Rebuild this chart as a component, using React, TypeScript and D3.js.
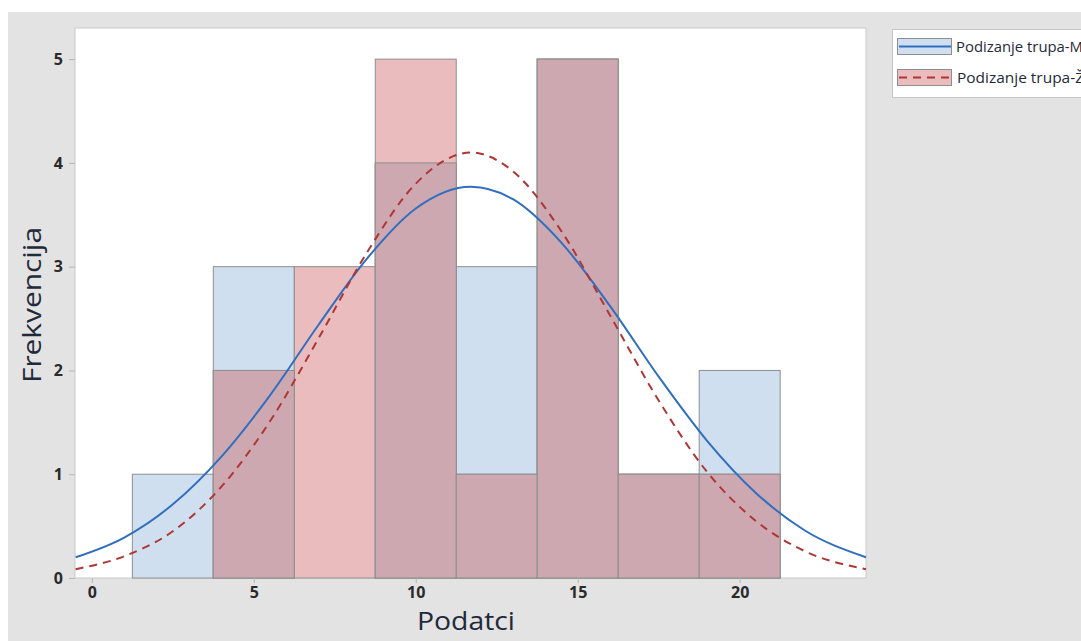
import * as d3 from "d3";
import { useEffect, useRef } from "react";

const binCenters = [2.5, 5, 7.5, 10, 12.5, 15, 17.5, 20];
const countsM = [1, 3, 0, 4, 3, 5, 1, 2];
const countsZ = [0, 2, 3, 5, 1, 5, 1, 1];
const binWidth = 2.5;

const curveX = [-0.5, 1, 2.5, 4, 5.5, 7, 8.5, 10, 11.7, 13, 14.5, 16, 17.5, 19, 20.5, 22, 23.9];
const curveM = [0.2, 0.39, 0.71, 1.17, 1.76, 2.44, 3.08, 3.56, 3.77, 3.65, 3.23, 2.62, 1.94, 1.32, 0.82, 0.46, 0.2];
const curveZ = [0.085, 0.21, 0.45, 0.88, 1.51, 2.31, 3.14, 3.8, 4.1, 3.92, 3.34, 2.53, 1.71, 1.02, 0.55, 0.26, 0.085];

const xTicks = [0, 5, 10, 15, 20];
const yTicks = [0, 1, 2, 3, 4, 5];
const legendLabels = ["Podizanje trupa-M", "Podizanje trupa-Ž"];

const App = () => {
    const svgRef = useRef(null);

    useEffect(() => {
        const svg = d3.select(svgRef.current);
        const width = 1081;
        const height = 641;
        const plot = { left: 75, top: 28, right: 866, bottom: 578 };
        const font = "'Open Sans', 'Noto Sans', sans-serif";

        svg.selectAll("*").remove();

        svg.append("rect").attr("x", 8).attr("y", 12).attr("width", width).attr("height", height).attr("fill", "#e3e3e3");
        svg.append("rect")
            .attr("x", plot.left).attr("y", plot.top)
            .attr("width", plot.right - plot.left).attr("height", plot.bottom - plot.top)
            .attr("fill", "#ffffff").attr("stroke", "#c9c9c9");

        const x = d3.scaleLinear().domain([-0.52, 23.9]).range([plot.left, plot.right]);
        const y = d3.scaleLinear().domain([0, 5.3]).range([plot.bottom, plot.top]);

        const g = svg.append("g");
        const drawBars = (counts, fill) => {
            g.selectAll(null)
                .data(binCenters.map((c, i) => ({ c, v: counts[i] })).filter(d => d.v > 0))
                .enter().append("rect")
                .attr("x", d => x(d.c - binWidth / 2))
                .attr("y", d => y(d.v))
                .attr("width", d => x(d.c + binWidth / 2) - x(d.c - binWidth / 2))
                .attr("height", d => y(0) - y(d.v))
                .attr("fill", fill)
                .attr("stroke", "#8e8e8e")
                .attr("stroke-width", 1);
        };
        drawBars(countsM, "#d0dfef");
        drawBars(countsZ, "#eabcbd");
        // where both series overlap
        drawBars(countsM.map((v, i) => Math.min(v, countsZ[i])), "#cda8b1");

        const line = d3.line().x(d => x(d[0])).y(d => y(d[1])).curve(d3.curveMonotoneX);
        g.append("path")
            .datum(curveX.map((v, i) => [v, curveM[i]]))
            .attr("fill", "none").attr("stroke", "#2f6fbe").attr("stroke-width", 2)
            .attr("d", line);
        g.append("path")
            .datum(curveX.map((v, i) => [v, curveZ[i]]))
            .attr("fill", "none").attr("stroke", "#b03535").attr("stroke-width", 2)
            .attr("stroke-dasharray", "8,6")
            .attr("d", line);

        const xAxis = svg.append("g")
            .attr("transform", `translate(0,${plot.bottom})`)
            .call(d3.axisBottom(x).tickValues(xTicks).tickSize(5).tickPadding(4).tickSizeOuter(0));
        xAxis.select(".domain").remove();
        const yAxis = svg.append("g")
            .attr("transform", `translate(${plot.left},0)`)
            .call(d3.axisLeft(y).tickValues(yTicks).tickFormat(d3.format("d")).tickSize(6).tickPadding(6).tickSizeOuter(0));
        yAxis.select(".domain").remove();
        svg.selectAll(".tick line").attr("stroke", "#b5b5b5");
        svg.selectAll(".tick text")
            .attr("fill", "#2a2a2a").style("font-family", font).style("font-size", "16px").style("font-weight", 700);

        svg.append("text")
            .attr("x", 417).attr("y", 630)
            .attr("textLength", 98).attr("lengthAdjust", "spacingAndGlyphs")
            .style("font-family", font).style("font-size", "25px").attr("fill", "#1f2a3a")
            .text("Podatci");
        svg.append("text")
            .attr("transform", `translate(41,383) rotate(-90)`)
            .attr("textLength", 156).attr("lengthAdjust", "spacingAndGlyphs")
            .style("font-family", font).style("font-size", "25px").attr("fill", "#1f2a3a")
            .text("Frekvencija");

        const legend = svg.append("g");
        legend.append("rect")
            .attr("x", 892.5).attr("y", 29.5).attr("width", 220).attr("height", 68)
            .attr("fill", "#ffffff").attr("stroke", "#c6c6c6");
        const items = [
            { label: legendLabels[0], fill: "#d0dfef", stroke: "#2f6fbe", dash: null },
            { label: legendLabels[1], fill: "#eabcbd", stroke: "#b03535", dash: "8,6" },
        ];
        items.forEach((it, i) => {
            const yy = 38 + i * 31;
            legend.append("rect")
                .attr("x", 897.5).attr("y", yy + 0.5).attr("width", 54).attr("height", 16)
                .attr("fill", it.fill).attr("stroke", "#8e8e8e");
            legend.append("line")
                .attr("x1", 899).attr("x2", 951).attr("y1", yy + 8.5).attr("y2", yy + 8.5)
                .attr("stroke", it.stroke).attr("stroke-width", 2)
                .attr("stroke-dasharray", it.dash);
            legend.append("text")
                .attr("x", 956 + i).attr("y", yy + 14)
                .attr("textLength", 127).attr("lengthAdjust", "spacingAndGlyphs")
                .style("font-family", font).style("font-size", "14px").attr("fill", "#1f2a3a")
                .text(it.label);
        });
    }, []);

    return <svg ref={svgRef} width={1081} height={641} style={{ position: "absolute", left: 0, top: 0 }} />;
};

export default App;
